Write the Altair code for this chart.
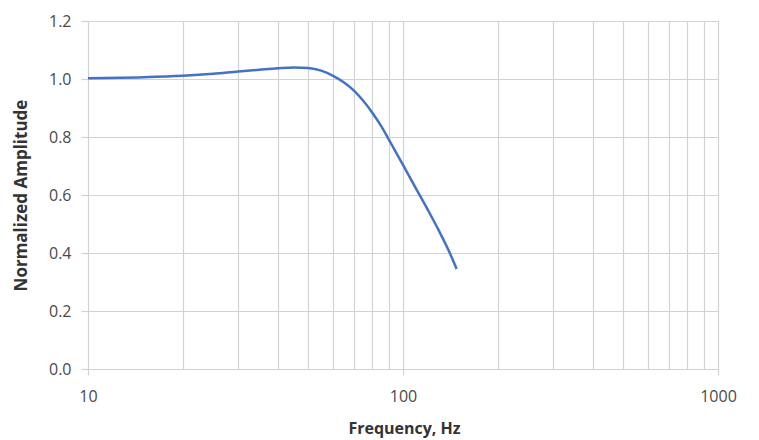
import altair as alt
import pandas as pd

freq = [10, 15, 20, 25, 30, 35, 40, 45, 50, 55, 60, 65, 70, 75, 80, 85, 90, 95, 100, 110, 120, 130, 140, 148]
amp = [1.003, 1.006, 1.011, 1.018, 1.026, 1.032, 1.037, 1.040, 1.038, 1.029, 1.011, 0.988, 0.959, 0.923,
       0.883, 0.840, 0.793, 0.747, 0.704, 0.622, 0.548, 0.477, 0.406, 0.345]

x_grid = [10, 20, 30, 40, 50, 60, 70, 80, 90, 100, 200, 300, 400, 500, 600, 700, 800, 900, 1000]
x_labels = [10, 100, 1000]
y_ticks = [0.0, 0.2, 0.4, 0.6, 0.8, 1.0, 1.2]

df = pd.DataFrame({"freq": freq, "amp": amp})

GRID = "#d2d2d2"
FONT = "Open Sans"
major_test = " || ".join(f"datum.value == {v}" for v in x_labels)

chart = alt.Chart(df).mark_line(
    color="#4472c4", strokeWidth=2.5, interpolate="monotone"
).encode(
    x=alt.X(
        "freq:Q",
        scale=alt.Scale(type="log", domain=[10, 1000], nice=False),
        axis=alt.Axis(
            values=x_grid,
            format="d",
            labelExpr=f"({major_test}) ? datum.label : ''",
            labelOverlap=False,
            labelFlush=False,
            labelBound=False,
            grid=True,
            gridColor=GRID,
            gridWidth=1.2,
            domain=False,
            tickSize=6,
            tickWidth=1.2,
            tickColor={"condition": {"test": major_test, "value": GRID}, "value": "transparent"},
            labelPadding=13,
            labelFont=FONT,
            labelFontSize=16,
            labelColor="#4a4a4a",
            title="Frequency, Hz",
            titleFont=FONT,
            titleFontSize=16,
            titleFontWeight="bold",
            titleColor="#333333",
            titleX=316,
            titleY=59,
            titleBaseline="middle",
            titleAlign="center",
        ),
    ),
    y=alt.Y(
        "amp:Q",
        scale=alt.Scale(domain=[0, 1.2], nice=False),
        axis=alt.Axis(
            values=y_ticks,
            format=".1f",
            grid=True,
            gridColor=GRID,
            gridWidth=1.2,
            domain=False,
            tickSize=7,
            tickWidth=1.2,
            tickColor=GRID,
            labelPadding=10,
            labelFont=FONT,
            labelFontSize=16,
            labelColor="#4a4a4a",
            title="Normalized Amplitude",
            titleFont=FONT,
            titleFontSize=17,
            titleFontWeight="bold",
            titleColor="#333333",
            titleX=-67,
            titleY=174,
            titleAngle=270,
            titleBaseline="middle",
            titleAlign="center",
        ),
    ),
).properties(
    width=630,
    height=348,
    autosize=alt.AutoSizeParams(type="none"),
    padding={"left": 80, "top": 13, "right": 33, "bottom": 70},
).configure_view(stroke=None).configure(background="white")

chart.save("out.html", embed_options={"renderer": "svg", "actions": False})
